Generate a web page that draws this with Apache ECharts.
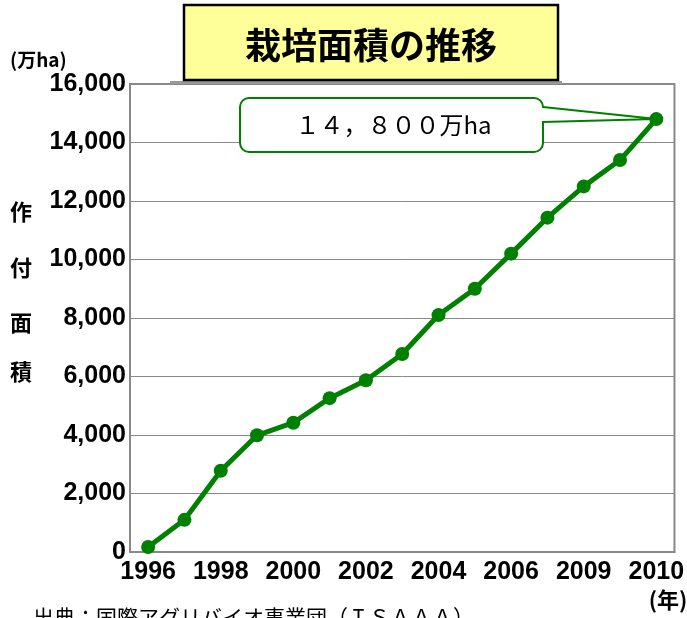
<!DOCTYPE html>
<html><head><meta charset="utf-8">
<script src="https://cdn.jsdelivr.net/npm/echarts@6/dist/echarts.min.js"></script>
<style>html,body{margin:0;padding:0;background:#fff;}#c{width:687px;height:618px;}</style>
</head><body><div id="c"></div>
<script>
const years = ['1996','1997','1998','1999','2000','2001','2002','2003','2004','2005','2006','2007','2008','2009','2010'];
const xTickLabels = ['1996','','1998','','2000','','2002','','2004','','2006','','2009','','2010'];
const area = [170, 1100, 2780, 3990, 4420, 5260, 5870, 6770, 8100, 9000, 10200, 11430, 12500, 13400, 14800];
const yTicks = [0, 2000, 4000, 6000, 8000, 10000, 12000, 14000, 16000];
const titleText = '栽培面積の推移';
const calloutText = '１４，８００万ha';
const unitText = '(万ha)';
const yearText = '(年)';
const yNameChars = ['作','付','面','積'];
const sourceText = '出典：国際アグリバイオ事業団（ＩＳＡＡＡ）';

const GREEN = '#008000';
const numFont = '"Liberation Sans Narrow","Liberation Sans",sans-serif';
const jpFont = '"Noto Sans CJK JP",sans-serif';

const chart = echarts.init(document.getElementById('c'), null, {renderer:'canvas'});
const option = {
  animation:false,
  grid:{left:130, right:9, top:84, bottom:66, show:true, borderColor:'#888', borderWidth:2, backgroundColor:'#fff'},
  xAxis:{type:'category', data:years, boundaryGap:true,
    axisLine:{lineStyle:{color:'#888', width:2}}, axisTick:{show:false},
    axisLabel:{interval:0, margin:8, color:'#000', fontFamily:numFont, fontWeight:'bold', fontSize:25,
      formatter:(v, i)=>xTickLabels[i]}},
  yAxis:{type:'value', min:yTicks[0], max:yTicks[yTicks.length-1], interval:2000,
    axisLine:{show:true, lineStyle:{color:'#888', width:2}}, axisTick:{show:false},
    splitLine:{lineStyle:{color:'#888', width:1}},
    axisLabel:{margin:4, color:'#000', fontFamily:numFont, fontWeight:'bold', fontSize:25,
      formatter:v=>v.toLocaleString('en-US')}},
  series:[{type:'line', data:area, symbol:'circle', symbolSize:14,
    lineStyle:{color:GREEN, width:5}, itemStyle:{color:GREEN}, z:5}]
};
chart.setOption(option);

const tip = chart.convertToPixel({gridIndex:0}, [years.length-1, area[area.length-1]]);
const bx=240, by=98, bw=303, bh=54;
const graphics = [
  {type:'rect', shape:{x:170, y:81, width:392, height:3}, style:{fill:'#999'}, z:1},
  {type:'rect', shape:{x:184, y:5, width:374, height:75}, style:{fill:'#FFFF99', stroke:'#000', lineWidth:2.5}, z:2},
  {type:'text', x:371, y:45, style:{text:titleText, font:'bold 36px '+jpFont, fill:'#000', align:'center', verticalAlign:'middle'}, z:3},
  {type:'text', x:10, y:60, style:{text:unitText, font:'bold 19px '+jpFont, fill:'#000', align:'left', verticalAlign:'middle'}},
  {type:'rect', shape:{x:bx, y:by, width:bw, height:bh, r:9}, style:{fill:'#fff', stroke:GREEN, lineWidth:2}, z:10},
  {type:'rect', shape:{x:bx+bw-3, y:108, width:6, height:13}, style:{fill:'#fff'}, z:11},
  {type:'polyline', shape:{points:[[bx+bw, 107],[tip[0], tip[1]],[bx+bw, 122]]}, style:{stroke:GREEN, lineWidth:2, fill:null}, z:12},
  {type:'text', x:bx+bw/2+2, y:by+bh/2, style:{text:calloutText, font:'24px '+jpFont, fill:'#000', align:'center', verticalAlign:'middle'}, z:13},
  {type:'text', x:668, y:600, style:{text:yearText, font:'bold 22px '+jpFont, fill:'#000', align:'center', verticalAlign:'middle'}},
  {type:'text', x:33, y:617, style:{text:sourceText, font:'21px '+jpFont, fill:'#000', align:'left', verticalAlign:'middle'}}
];
const charY = [212, 268, 323, 372];
yNameChars.forEach((ch, i)=>{
  graphics.push({type:'text', x:21, y:charY[i], style:{text:ch, font:'bold 22px '+jpFont, fill:'#000', align:'center', verticalAlign:'middle'}});
});
chart.setOption({graphic:graphics});
</script>
</body></html>
